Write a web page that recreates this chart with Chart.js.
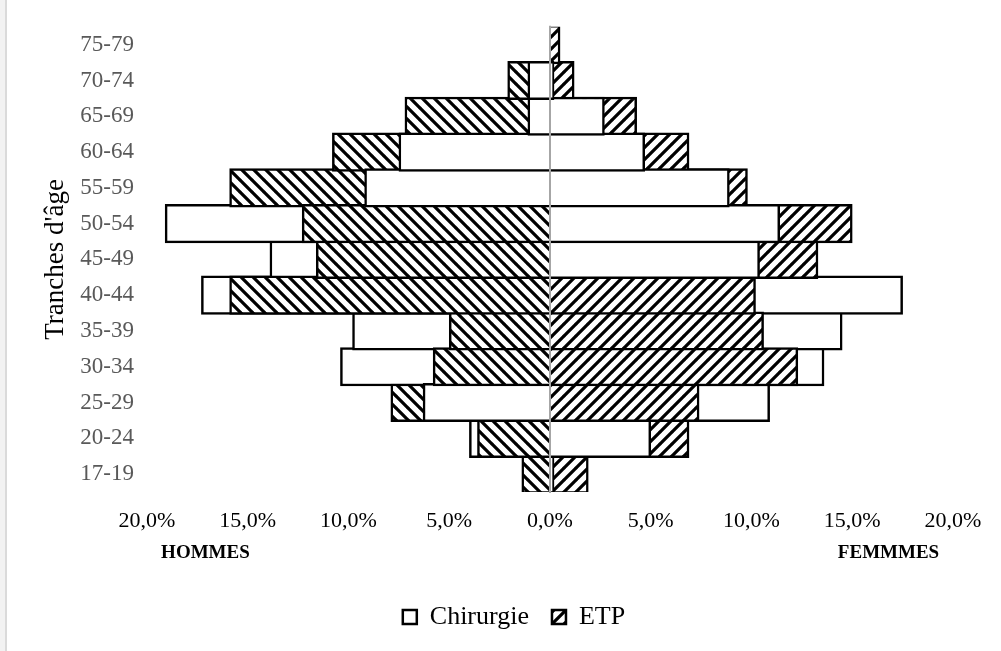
<!DOCTYPE html>
<html lang="fr">
<head>
<meta charset="utf-8">
<title>Tranches d'âge</title>
<script src="https://cdn.jsdelivr.net/npm/chart.js@4"></script>
<style>
  html, body { margin: 0; padding: 0; background: #fff; }
  #wrap { position: relative; width: 1001px; height: 651px; }
  #edge { position: absolute; left: 0; top: 0; width: 5px; height: 651px; background: #f2f2f2; border-right: 2px solid #dadada; }
</style>
</head>
<body>
<div id="wrap">
  <div id="edge"></div>
  <canvas id="pyramide"></canvas>
</div>
<script>
// ---- données (en %) ----
const categories = ["17-19", "20-24", "25-29", "30-34", "35-39", "40-44", "45-49",
                    "50-54", "55-59", "60-64", "65-69", "70-74", "75-79"];
const chirurgieHommes = [0, 4.0, 6.3, 10.4, 9.8, 17.3, 13.9, 19.1, 9.2, 7.5, 1.1, 1.1, 0];
const etpHommes       = [1.4, 3.6, 7.9, 5.8, 5.0, 15.9, 11.6, 12.3, 15.9, 10.8, 7.2, 2.1, 0];
const chirurgieFemmes = [0.2, 5.0, 10.9, 13.6, 14.5, 17.5, 10.4, 11.4, 8.9, 4.7, 2.7, 0.2, 0];
const etpFemmes       = [1.9, 6.9, 7.4, 12.3, 10.6, 10.2, 13.3, 15.0, 9.8, 6.9, 4.3, 1.2, 0.5];
const xTicks = [-20, -15, -10, -5, 0, 5, 10, 15, 20];

const FONT = "'Liberation Serif', 'Times New Roman', serif";

// hachures : "\" côté hommes, "/" côté femmes
function hatch(dir) {
  const s = 12;
  const c = document.createElement("canvas");
  c.width = s; c.height = s;
  const g = c.getContext("2d");
  g.fillStyle = "#fff";
  g.fillRect(0, 0, s, s);
  g.strokeStyle = "#000";
  g.lineWidth = 3.2;
  g.beginPath();
  for (let k = -1; k <= 1; k++) {
    if (dir === "/") {
      g.moveTo(k * s - 1, s + 1); g.lineTo(k * s + s + 1, -1);
    } else {
      g.moveTo(k * s - 1, -1); g.lineTo(k * s + s + 1, s + 1);
    }
  }
  g.stroke();
  return g.createPattern(c, "repeat");
}
const hatchH = hatch("\\");
const hatchF = hatch("/");

// la barre la plus courte passe devant la plus longue
function layers(chir, etp, sign, pattern) {
  const front = [], back = [], frontBg = [], backBg = [];
  chir.forEach((c, i) => {
    const e = etp[i];
    const etpLonger = e > c;
    back.push(sign * Math.max(c, e) || null);
    front.push(sign * Math.min(c, e) || null);
    backBg.push(etpLonger ? pattern : "#fff");
    frontBg.push(etpLonger ? "#fff" : pattern);
  });
  return { front, back, frontBg, backBg };
}
const H = layers(chirurgieHommes, etpHommes, -1, hatchH);
const F = layers(chirurgieFemmes, etpFemmes, 1, hatchF);

function bars(data, bg, order) {
  return {
    data: data,
    backgroundColor: bg,
    borderColor: "#000",
    borderWidth: 2.5,
    grouped: false,
    barThickness: 38.5,
    order: order
  };
}

const decor = {
  id: "decor",
  afterDatasetsDraw(chart) {
    const { ctx, chartArea, scales } = chart;
    const x0 = scales.x.getPixelForValue(0);
    ctx.save();
    ctx.strokeStyle = "#a6a6a6";
    ctx.lineWidth = 2;
    ctx.beginPath();
    ctx.moveTo(x0, chartArea.top - 1);
    ctx.lineTo(x0, chartArea.bottom + 1);
    ctx.stroke();
    ctx.restore();
  },
  afterDraw(chart) {
    const { ctx, chartArea, scales } = chart;
    ctx.save();
    ctx.font = "bold 19px " + FONT;
    ctx.fillStyle = "#000";
    ctx.textAlign = "center";
    ctx.textBaseline = "middle";
    const y = chartArea.bottom + 61;
    ctx.fillText("HOMMES", scales.x.getPixelForValue(-17.1), y);
    ctx.fillText("FEMMMES", scales.x.getPixelForValue(16.8), y);
    ctx.restore();
  }
};

new Chart(document.getElementById("pyramide"), {
  type: "bar",
  data: {
    labels: categories,
    datasets: [
      bars(H.front, H.frontBg, 1),
      bars(F.front, F.frontBg, 1),
      bars(H.back, H.backBg, 2),
      bars(F.back, F.backBg, 2)
    ]
  },
  options: {
    indexAxis: "y",
    responsive: true,
    maintainAspectRatio: false,
    animation: false,
    events: [],
    layout: { padding: { top: 24, right: 48, bottom: 11, left: 75 } },
    scales: {
      x: {
        min: -20,
        max: 20,
        afterBuildTicks: scale => { scale.ticks = xTicks.map(v => ({ value: v })); },
        afterFit: scale => { scale.height = 89; },
        grid: { display: false, drawTicks: false },
        border: { display: false },
        ticks: {
          padding: 16,
          color: "#000",
          font: { family: FONT, size: 22 },
          maxRotation: 0,
          callback: v => Math.abs(v).toFixed(1).replace(".", ",") + "%"
        }
      },
      y: {
        reverse: true,
        afterFit: scale => { scale.width = 72; },
        grid: { display: false, drawTicks: false },
        border: { display: false },
        ticks: {
          padding: 13,
          color: "#595959",
          font: { family: FONT, size: 23 }
        },
        title: {
          display: true,
          text: "Tranches d'âge",
          color: "#000",
          font: { family: FONT, size: 27 },
          padding: { top: -35, bottom: 0 }
        }
      }
    },
    plugins: {
      tooltip: { enabled: false },
      legend: {
        position: "bottom",
        onClick: null,
        labels: {
          color: "#000",
          font: { family: FONT, size: 26 },
          boxWidth: 14,
          boxHeight: 14,
          padding: 23,
          generateLabels: () => [
            { text: "Chirurgie", fillStyle: "#fff", strokeStyle: "#000", lineWidth: 2.5, datasetIndex: 0 },
            { text: "ETP", fillStyle: hatchF, strokeStyle: "#000", lineWidth: 2.5, datasetIndex: 1 }
          ]
        }
      }
    }
  },
  plugins: [decor]
});
</script>
</body>
</html>
